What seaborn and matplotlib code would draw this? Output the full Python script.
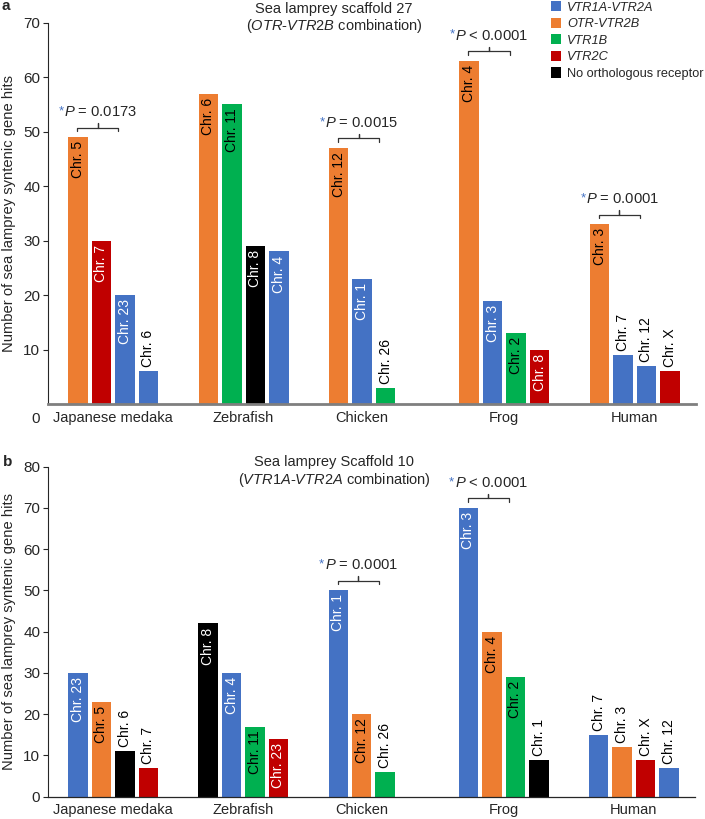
import pandas as pd
import seaborn as sns
import matplotlib.pyplot as plt
from matplotlib.patches import Patch

sns.set_style("ticks")
plt.rcParams['font.family'] = ['Liberation Sans', 'DejaVu Sans']
plt.rcParams['mathtext.fontset'] = 'custom'
plt.rcParams['mathtext.rm'] = 'Liberation Sans'
plt.rcParams['mathtext.it'] = 'Liberation Sans:italic'

# Categories and receptor types
species = ["Japanese medaka", "Zebrafish", "Chicken", "Frog", "Human"]
receptor_codes = ["V1A", "OTR", "V1B", "V2C", "none"]
receptor_labels = ["VTR1A-VTR2A", "OTR-VTR2B", "VTR1B", "VTR2C", "No orthologous receptor"]
receptor_colors = ["#4472C4", "#ED7D31", "#00B050", "#C00000", "#000000"]
label_colors = ["white", "black", "black", "white", "white"]

# Panel a: sea lamprey scaffold 27
a_chrom = [["Chr. 5", "Chr. 7", "Chr. 23", "Chr. 6"],
           ["Chr. 6", "Chr. 11", "Chr. 8", "Chr. 4"],
           ["Chr. 12", "Chr. 1", "Chr. 26"],
           ["Chr. 4", "Chr. 3", "Chr. 2", "Chr. 8"],
           ["Chr. 3", "Chr. 7", "Chr. 12", "Chr. X"]]
a_hits = [[49, 30, 20, 6], [57, 55, 29, 28], [47, 23, 3], [63, 19, 13, 10], [33, 9, 7, 6]]
a_type = [["OTR", "V2C", "V1A", "V1A"],
          ["OTR", "V1B", "none", "V1A"],
          ["OTR", "V1A", "V1B"],
          ["OTR", "V1A", "V1B", "V2C"],
          ["OTR", "V1A", "V1A", "V2C"]]
a_inside = [[1, 1, 1, 0], [1, 1, 1, 1], [1, 1, 0], [1, 1, 1, 1], [1, 0, 0, 0]]
a_pvals = {"Japanese medaka": "= 0.0173", "Chicken": "= 0.0015",
           "Frog": "< 0.0001", "Human": "= 0.0001"}

# Panel b: sea lamprey scaffold 10
b_chrom = [["Chr. 23", "Chr. 5", "Chr. 6", "Chr. 7"],
           ["Chr. 8", "Chr. 4", "Chr. 11", "Chr. 23"],
           ["Chr. 1", "Chr. 12", "Chr. 26"],
           ["Chr. 3", "Chr. 4", "Chr. 2", "Chr. 1"],
           ["Chr. 7", "Chr. 3", "Chr. X", "Chr. 12"]]
b_hits = [[30, 23, 11, 7], [42, 30, 17, 14], [50, 20, 6], [70, 40, 29, 9], [15, 12, 9, 7]]
b_type = [["V1A", "OTR", "none", "V2C"],
          ["none", "V1A", "V1B", "V2C"],
          ["V1A", "OTR", "V1B"],
          ["V1A", "OTR", "V1B", "none"],
          ["V1A", "OTR", "V2C", "V1A"]]
b_inside = [[1, 1, 0, 0], [1, 1, 1, 1], [1, 1, 0], [1, 1, 1, 0], [0, 0, 0, 0]]
b_pvals = {"Chicken": "= 0.0001", "Frog": "< 0.0001"}

STAR_BLUE = "#4472C4"
W, H = 705, 819


def draw_panel(ax, chrom, hits, types, inside, pvals, ymax, yticks):
    rows = []
    for i, sp in enumerate(species):
        for k in range(len(hits[i])):
            rows.append(dict(species=sp, slot=f"s{k}", hits=hits[i][k], chrom=chrom[i][k],
                             rtype=types[i][k], inside=inside[i][k]))
    df = pd.DataFrame(rows)

    sns.barplot(data=df, x="species", y="hits", hue="slot", order=species,
                hue_order=["s0", "s1", "s2", "s3"], width=0.72, gap=0.17,
                errorbar=None, legend=False, ax=ax)
    ax.set_xlim(-0.5, 4.47)
    ax.set_ylim(0, ymax)

    # recolour each bar by receptor type and label it
    centers = {}
    for p in ax.patches:
        h = p.get_height()
        if not h == h:
            continue
        c = p.get_x() + p.get_width() / 2
        cat = int(round(c))
        slot = int(round((c - cat + 0.27) / 0.18))
        row = df[(df.species == species[cat]) & (df.slot == f"s{slot}")].iloc[0]
        ri = receptor_codes.index(row.rtype)
        p.set_facecolor(receptor_colors[ri])
        p.set_edgecolor("none")
        centers[(cat, slot)] = (c, h)
        if row.inside:
            ax.annotate(row.chrom, xy=(c, h), xytext=(0, -4), textcoords="offset pixels",
                        rotation=90, ha="center", va="top", fontsize=10,
                        color=label_colors[ri])
        else:
            ax.annotate(row.chrom, xy=(c, h), xytext=(0, 4), textcoords="offset pixels",
                        rotation=90, ha="center", va="bottom", fontsize=10, color="black")

    ticks = []
    for i in range(len(species)):
        xs = [centers[(i, k)][0] for k in range(len(hits[i]))]
        ticks.append(sum(xs) / len(xs))
    ax.set_xticks(ticks, species)
    ax.set_xlabel("")
    ax.set_ylabel("")
    ax.set_yticks(yticks)
    ax.tick_params(axis="x", length=0, pad=4.8, labelsize=10.5)
    ax.tick_params(axis="y", length=3.6, width=0.8, pad=2, labelsize=11)
    sns.despine(ax=ax)
    ax.spines["left"].set_linewidth(0.8)

    # significance brackets
    ppu = ax.bbox.height / ymax
    for sp, ptxt in pvals.items():
        i = species.index(sp)
        c0, h0 = centers[(i, 0)]
        x0, x1 = c0 - 0.005, c0 + 0.31
        xm = (x0 + x1) / 2
        yb = h0 + 9.5 / ppu
        ye = yb - 3.5 / ppu
        yt = yb + 4.5 / ppu
        ax.plot([x0, x0, xm, xm, xm, x1, x1], [ye, yb, yb, yt, yb, yb, ye],
                color="#333333", lw=0.9)
        t = ax.annotate(r"$\mathit{P}$ " + ptxt, xy=(xm, yb), xytext=(3, 15.5),
                        textcoords="offset pixels", ha="center", va="center", fontsize=10.6)
        ax.annotate("*", xy=(0, 1), xycoords=t, xytext=(-0.5, 0), textcoords="offset pixels",
                    ha="right", va="top", color=STAR_BLUE, fontsize=9.5)


fig = plt.figure(figsize=(7.05, 8.19), dpi=100)
ax_a = fig.add_axes([48 / W, 1 - 404 / H, 648 / W, (404 - 22.7) / H])
ax_b = fig.add_axes([48 / W, 1 - 796.7 / H, 647 / W, (796.7 - 466.7) / H])

draw_panel(ax_a, a_chrom, a_hits, a_type, a_inside, a_pvals, 70, range(10, 71, 10))
draw_panel(ax_b, b_chrom, b_hits, b_type, b_inside, b_pvals, 80, range(0, 81, 10))

ax_a.spines["bottom"].set_color("#7f7f7f")
ax_a.spines["bottom"].set_linewidth(2)
ax_b.spines["bottom"].set_linewidth(0.9)
ax_a.annotate("0", xy=(0, 0), xycoords="axes fraction", xytext=(-8, -15),
              textcoords="offset pixels", ha="right", va="center", fontsize=11)

# titles
fig.text(334 / W, 1 - 9 / H, "Sea lamprey scaffold 27", ha="center", va="center", fontsize=10.5)
fig.text(334 / W, 1 - 26 / H, r"($\mathit{OTR}$-$\mathit{VTR2B}$ combination)",
         ha="center", va="center", fontsize=10.5)
fig.text(334 / W, 1 - 462 / H, "Sea lamprey Scaffold 10", ha="center", va="center", fontsize=10.5)
fig.text(334 / W, 1 - 480 / H, r"($\mathit{VTR1A}$-$\mathit{VTR2A}$ combination)",
         ha="center", va="center", fontsize=10.5)

# y labels and panel letters
ylab = "Number of sea lamprey syntenic gene hits"
fig.text(9 / W, 1 - 213 / H, ylab, rotation=90, ha="center", va="center", fontsize=10.6)
fig.text(9 / W, 1 - 632 / H, ylab, rotation=90, ha="center", va="center", fontsize=10.6)
fig.text(1 / W, 1 - 6 / H, "a", ha="left", va="center", fontsize=11, fontweight="bold")
fig.text(3 / W, 1 - 462 / H, "b", ha="left", va="center", fontsize=11, fontweight="bold")

# legend
handles = [Patch(facecolor=c, edgecolor="none") for c in receptor_colors]
leg = fig.legend(handles, receptor_labels, loc="upper left", bbox_to_anchor=(551 / W, 1 - 1 / H),
                 frameon=False, fontsize=9.2, handlelength=0.8, handleheight=0.85,
                 handletextpad=0.45, labelspacing=0.32, borderpad=0, borderaxespad=0)
for t in leg.get_texts()[:4]:
    t.set_fontstyle("italic")

fig.savefig("out.png", dpi=100)
